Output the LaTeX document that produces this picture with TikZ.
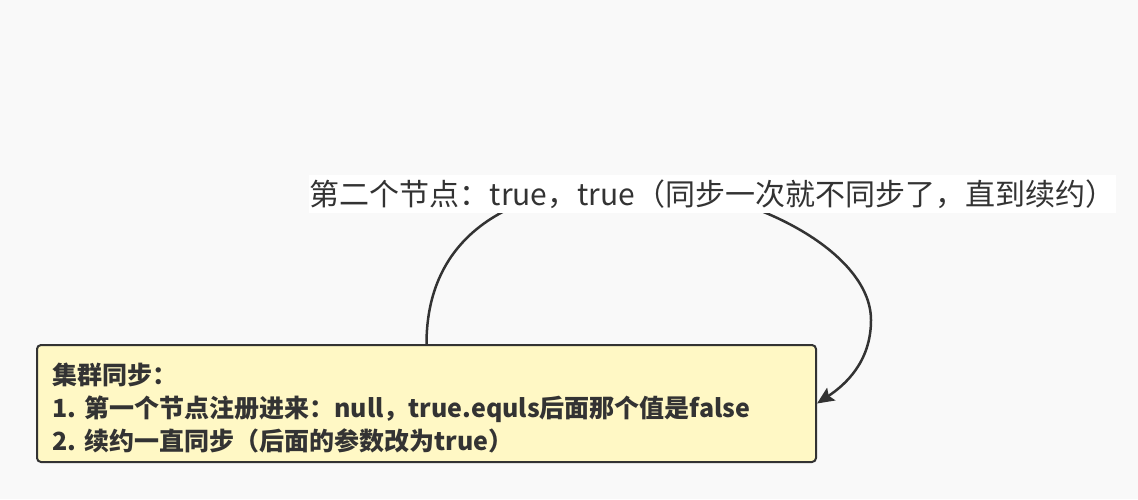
\documentclass[tikz,border=0pt]{standalone}
\usepackage{fontspec}
\setmainfont{Noto Sans CJK SC}
\usetikzlibrary{arrows.meta}
\definecolor{bgc}{HTML}{F9F9F9}
\definecolor{ink}{HTML}{333333}
\definecolor{boxfill}{HTML}{FFF8C5}
\tikzset{
  notebox/.style={draw=ink, line width=2pt, fill=boxfill, rounded corners=4pt,
    minimum width=779pt, minimum height=117pt, text width=749pt, align=left,
    inner sep=0pt, text=ink, font=\fontsize{25}{33}\selectfont\bfseries},
  edgelabel/.style={fill=white, text=ink, inner sep=0pt, minimum width=807pt,
    minimum height=38pt, font=\fontsize{30}{32}\selectfont},
  conn/.style={draw=ink, line width=2.5pt, -{Stealth[length=17pt,width=15pt,inset=3pt]}}
}
\begin{document}
\frenchspacing
\lineskiplimit=-100pt
\begin{tikzpicture}[x=1pt,y=-1pt]
\fill[bgc] (0,0) rectangle (1138,499);
\useasboundingbox (0,0) rectangle (1138,499);
\node[notebox] (box) at (426.5,403.5) {\rule{0pt}{30pt}集群同步：\\1. 第一个节点注册进来：null，true.equls后面那个值是false\\2. 续约一直同步（后面的参数改为true）};
\draw[conn] (box.north) .. controls +(0,-115) and (520,185) .. (630,185)
  .. controls (745,185) and (871,250) .. (871,320)
  .. controls (871,362) and (845,385) .. (box.east);
\node[edgelabel] (lbl) at (712.5,194) {第二个节点：true，true（同步一次就不同步了，直到续约）};
\end{tikzpicture}
\end{document}
